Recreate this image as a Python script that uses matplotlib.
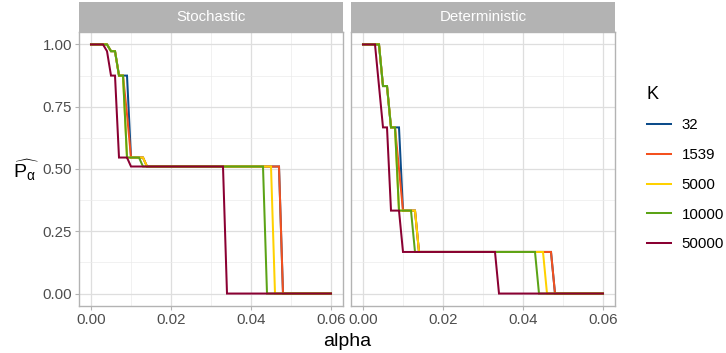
import numpy as np
from matplotlib import pyplot as plt
from matplotlib.ticker import MultipleLocator

plt.rcParams['font.family'] = ['Liberation Sans', 'DejaVu Sans']
plt.rcParams['mathtext.fontset'] = 'custom'
plt.rcParams['mathtext.rm'] = 'Liberation Sans'

panels = ["Stochastic", "Deterministic"]
k_labels = ["32", "1539", "5000", "10000", "50000"]
colors = ["#0C4C8A", "#F4511E", "#FFD100", "#5BA316", "#8A0032"]

# alpha breakpoints for each K (same in both panels)
alpha_32 = [0, .004, .005, .006, .007, .009, .010, .013, .014, .047, .048, .060]
alpha_1539 = [0, .004, .005, .006, .007, .008, .009, .010, .013, .014, .047, .048, .060]
alpha_5000 = [0, .004, .005, .006, .007, .008, .009, .013, .014, .045, .046, .060]
alpha_10000 = [0, .004, .005, .006, .007, .008, .009, .012, .013, .043, .044, .060]
alpha_50000 = [0, .003, .004, .005, .006, .007, .009, .010, .033, .034, .060]

# stochastic panel
p_sto_32 = [1, 1, .973, .973, .875, .875, .546, .546, .51, .51, 0, 0]
p_sto_1539 = [1, 1, .973, .973, .875, .875, .72, .546, .546, .51, .51, 0, 0]
p_sto_5000 = [1, 1, .973, .973, .875, .875, .546, .546, .51, .51, 0, 0]
p_sto_10000 = [1, 1, .973, .973, .875, .875, .546, .546, .51, .51, 0, 0]
p_sto_50000 = [1, 1, .973, .875, .875, .546, .546, .51, .51, 0, 0]

# deterministic panel
p_det_32 = [1, 1, .833, .833, .667, .667, .333, .333, .167, .167, 0, 0]
p_det_1539 = [1, 1, .833, .833, .667, .667, .5, .333, .333, .167, .167, 0, 0]
p_det_5000 = [1, 1, .833, .833, .667, .667, .333, .333, .167, .167, 0, 0]
p_det_10000 = [1, 1, .833, .833, .667, .667, .333, .333, .167, .167, 0, 0]
p_det_50000 = [1, 1, .833, .667, .667, .333, .333, .167, .167, 0, 0]

alphas = [alpha_32, alpha_1539, alpha_5000, alpha_10000, alpha_50000]
p_values = [
    [p_sto_32, p_sto_1539, p_sto_5000, p_sto_10000, p_sto_50000],
    [p_det_32, p_det_1539, p_det_5000, p_det_10000, p_det_50000],
]

W, H = 726, 353
fig = plt.figure(figsize=(W / 100, H / 100), dpi=100)


def frac(x0, y0, x1, y1):
    # pixel box (top-left origin) -> figure fraction rect
    return [x0 / W, 1 - y1 / H, (x1 - x0) / W, (y1 - y0) / H]


panel_x = [(79, 343), (351, 615)]
border = "#B3B3B3"

for i, name in enumerate(panels):
    x0, x1 = panel_x[i]
    ax = fig.add_axes(frac(x0, 32, x1, 306))
    for j in range(len(k_labels)):
        ax.plot(alphas[j], p_values[i][j], color=colors[j], lw=1.45,
                label=k_labels[j], solid_joinstyle="miter")
    ax.set_xlim(-0.003, 0.063)
    ax.set_ylim(-0.05, 1.05)
    ax.xaxis.set_major_locator(MultipleLocator(0.02))
    ax.xaxis.set_minor_locator(MultipleLocator(0.01))
    ax.yaxis.set_major_locator(MultipleLocator(0.25))
    ax.yaxis.set_minor_locator(MultipleLocator(0.125))
    ax.grid(which="major", color="#DEDEDE", lw=0.9)
    ax.grid(which="minor", color="#EBEBEB", lw=0.5)
    ax.set_axisbelow(True)
    ax.tick_params(which="minor", length=0)
    ax.tick_params(which="major", length=3, width=0.8, color=border,
                   labelcolor="#4D4D4D", labelsize=10.8, pad=2)
    ax.xaxis.set_major_formatter(lambda v, pos: "{:.2f}".format(v))
    ax.yaxis.set_major_formatter(lambda v, pos: "{:.2f}".format(v))
    if i > 0:
        ax.tick_params(axis="y", left=False, labelleft=False)
    for s in ax.spines.values():
        s.set_color(border)
        s.set_linewidth(1.0)

    strip = fig.add_axes(frac(x0, 2, x1, 32))
    strip.set_facecolor(border)
    strip.set_xticks([])
    strip.set_yticks([])
    for s in strip.spines.values():
        s.set_visible(False)
    strip.text(0.5, 0.5, name, color="white", fontsize=10.8,
               ha="center", va="center", transform=strip.transAxes)

    if i == 0:
        handles, labels = ax.get_legend_handles_labels()

fig.text(347 / W, 1 - 341 / H, "alpha", fontsize=14, ha="center", va="center")
fig.text(26 / W, 1 - 170 / H, r"$\widehat{\mathrm{P}_{\mathrm{\alpha}}}$",
         fontsize=14, ha="center", va="center")

leg = fig.legend(handles, labels, title="K", loc="center left",
                 bbox_to_anchor=(633 / W, 1 - 168.5 / H), frameon=False,
                 fontsize=10.8, title_fontsize=13, handlelength=1.6,
                 handletextpad=0.75, labelspacing=1.05, alignment="left")

plt.savefig("out.png", dpi=100)
